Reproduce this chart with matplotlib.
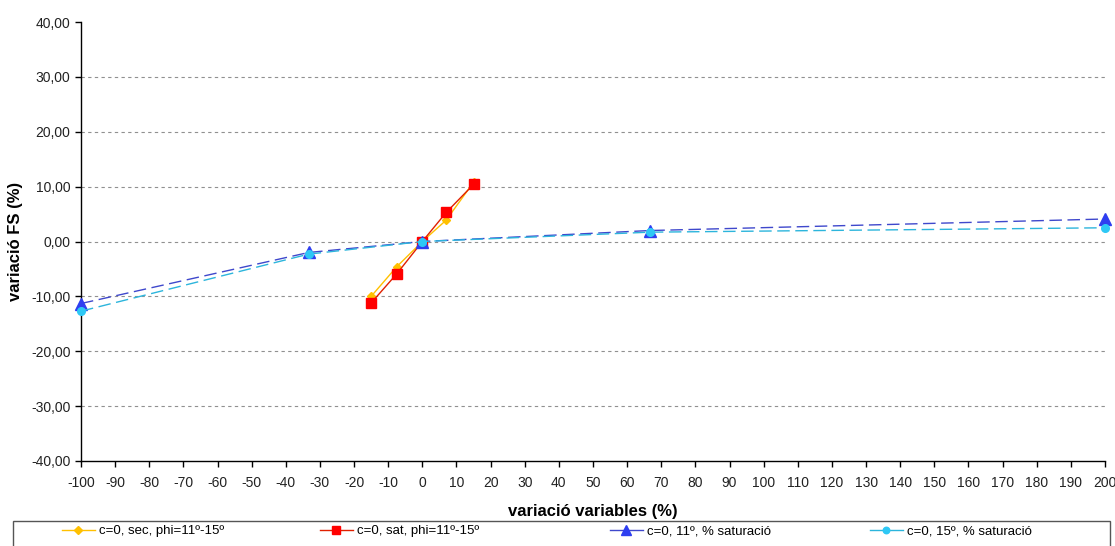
import matplotlib
matplotlib.use("Agg")
import matplotlib.pyplot as plt
from matplotlib.lines import Line2D
from matplotlib.patches import Rectangle
from matplotlib.ticker import FuncFormatter, MultipleLocator

plt.rcParams['font.family'] = ['Liberation Sans', 'DejaVu Sans']
plt.rcParams['axes.unicode_minus'] = False

# data
x_phi = [-15, -7.5, 0, 7, 15]
y_sec = [-10.0, -4.6, 0.0, 3.9, 10.8]
y_sat = [-11.2, -5.9, 0.0, 5.3, 10.4]

x_sat = [-100, -33.3, 0, 66.7, 200]
y_11 = [-11.3, -2.0, 0.0, 2.0, 4.1]
y_15 = [-12.7, -2.3, 0.0, 1.7, 2.5]

labels = ["c=0, sec, phi=11º-15º", "c=0, sat, phi=11º-15º",
          "c=0, 11º, % saturació", "c=0, 15º, % saturació"]

# style per series: line colour, marker, marker size, marker colour, linestyle
styles = [
    ('#FFC000', 'D', 4.5, '#FFC000', '-'),
    ('#E02000', 's', 7, '#FF0000', '-'),
    ('#3F48CC', '^', 8, '#2E3EF0', (0, (9, 4))),
    ('#2CB5DC', 'o', 5.5, '#2EC8F5', (0, (9, 4))),
]
series = [(x_phi, y_sec), (x_phi, y_sat), (x_sat, y_11), (x_sat, y_15)]

W, H = 1115, 546
fig = plt.figure(figsize=(W/100, H/100), dpi=100)
ax = fig.add_axes([81/W, 1-461/H, (1105-81)/W, (461-22)/H])

for i, ((xs, ys), (lc, mk, ms, mc, ls)) in enumerate(zip(series, styles)):
    ax.plot(xs, ys, color=lc, lw=1, ls=ls, marker=mk, ms=ms, mfc=mc, mec=mc,
            clip_on=False, zorder=3+i)

ax.set_xlim(-100, 200)
ax.set_ylim(-40, 40)
ax.xaxis.set_major_locator(MultipleLocator(10))
ax.yaxis.set_major_locator(MultipleLocator(10))
ax.yaxis.set_major_formatter(FuncFormatter(lambda v, p: f"{v:.2f}".replace('.', ',')))

for yv in range(-30, 40, 10):
    ax.axhline(yv, color='#909090', lw=0.8, ls=(0, (3, 3)), zorder=1)

for s in ['top', 'right']:
    ax.spines[s].set_visible(False)
for s in ['left', 'bottom']:
    ax.spines[s].set_linewidth(1)
ax.tick_params(direction='out', length=4, width=1, labelsize=10, colors='black',
               labelcolor='#222222')
ax.tick_params(axis='x', pad=7)

ax.set_xlabel("variació variables (%)", fontsize=12, fontweight='bold', labelpad=10)
ax.set_ylabel("variació FS (%)", fontsize=12, fontweight='bold', labelpad=6)

# legend: frame box cut by the bottom edge, four entries placed like the original
fig.add_artist(Rectangle((13/W, -0.01), 1097/W, (H-521)/H + 0.01,
                         transform=fig.transFigure, fill=False,
                         edgecolor='#555555', lw=1))
leg_x = [62, 320, 610, 870]
for (lc, mk, ms, mc, ls), lab, lx in zip(styles, labels, leg_x):
    h = Line2D([], [], color=lc, lw=1, marker=mk, ms=ms*0.85, mfc=mc, mec=mc)
    fig.legend([h], [lab], loc='center left', bbox_to_anchor=(lx/W, 1-531/H),
               frameon=False, fontsize=9.5, borderpad=0, borderaxespad=0,
               handlelength=2.5, handletextpad=0.3)

fig.savefig("out.png", dpi=100)
